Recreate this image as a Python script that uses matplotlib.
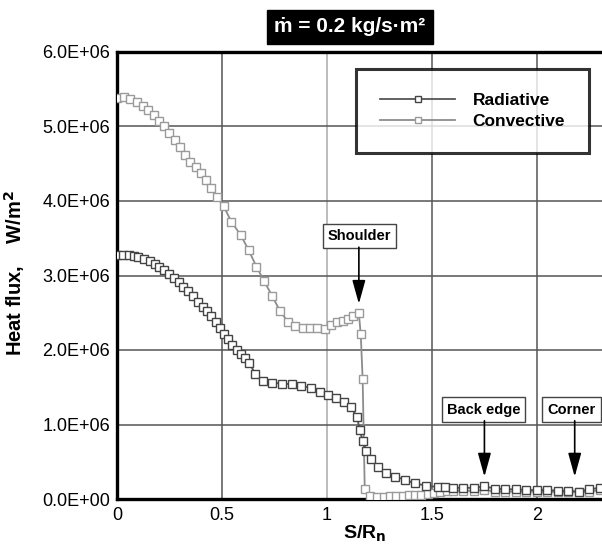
import matplotlib
matplotlib.use("Agg")
import matplotlib.pyplot as plt
from matplotlib.ticker import FuncFormatter

plt.rcParams['font.family'] = ['Liberation Sans', 'DejaVu Sans']

# ---- data (heat flux in W/m^2) ----
conv_s = [0.000, 0.031, 0.062, 0.093, 0.124, 0.150, 0.175, 0.200, 0.225, 0.250,
          0.275, 0.300, 0.325, 0.350, 0.375, 0.400, 0.425, 0.450, 0.475, 0.508,
          0.545, 0.590, 0.627, 0.664, 0.700, 0.740, 0.777, 0.814, 0.850, 0.887,
          0.920, 0.954, 0.993, 1.018, 1.048, 1.075, 1.099, 1.124, 1.152, 1.161,
          1.170, 1.180, 1.207, 1.240, 1.270, 1.300, 1.330, 1.360, 1.390, 1.420,
          1.450, 1.480, 1.510, 1.540, 1.570, 1.600, 1.650, 1.700, 1.750, 1.800,
          1.850, 1.900, 1.950, 2.000, 2.050, 2.100, 2.150, 2.200, 2.250, 2.300]
conv_q = [5.38, 5.39, 5.37, 5.33, 5.28, 5.22, 5.15, 5.08, 5.00, 4.91,
          4.82, 4.72, 4.62, 4.53, 4.45, 4.37, 4.28, 4.18, 4.06, 3.93,
          3.72, 3.54, 3.34, 3.12, 2.93, 2.72, 2.52, 2.38, 2.32, 2.29,
          2.29, 2.29, 2.28, 2.34, 2.37, 2.39, 2.42, 2.46, 2.49, 2.21,
          1.61, 0.13, 0.045, 0.03, 0.03, 0.035, 0.04, 0.045, 0.05, 0.05,
          0.06, 0.07, 0.08, 0.10, 0.11, 0.11, 0.11, 0.11, 0.12, 0.10,
          0.10, 0.10, 0.10, 0.10, 0.10, 0.09, 0.09, 0.09, 0.10, 0.12]

rad_s = [0.000, 0.027, 0.055, 0.080, 0.100, 0.130, 0.155, 0.180, 0.200, 0.225,
         0.247, 0.270, 0.293, 0.315, 0.338, 0.360, 0.384, 0.410, 0.430, 0.450,
         0.472, 0.490, 0.508, 0.528, 0.548, 0.570, 0.590, 0.610, 0.630, 0.658,
         0.695, 0.740, 0.786, 0.832, 0.877, 0.923, 0.969, 1.005, 1.042, 1.079,
         1.115, 1.143, 1.157, 1.170, 1.188, 1.212, 1.243, 1.280, 1.325, 1.371,
         1.417, 1.472, 1.527, 1.563, 1.600, 1.650, 1.700, 1.750, 1.800, 1.850,
         1.900, 1.950, 2.000, 2.050, 2.100, 2.150, 2.200, 2.250, 2.300]
rad_q = [3.27, 3.28, 3.27, 3.26, 3.25, 3.22, 3.19, 3.16, 3.12, 3.07,
         3.02, 2.97, 2.91, 2.85, 2.79, 2.72, 2.65, 2.58, 2.52, 2.45,
         2.38, 2.30, 2.22, 2.15, 2.07, 2.00, 1.94, 1.89, 1.83, 1.68,
         1.59, 1.56, 1.55, 1.54, 1.52, 1.49, 1.43, 1.39, 1.35, 1.30,
         1.23, 1.10, 0.92, 0.78, 0.65, 0.54, 0.43, 0.35, 0.30, 0.26,
         0.21, 0.18, 0.16, 0.16, 0.15, 0.15, 0.15, 0.17, 0.14, 0.13,
         0.13, 0.12, 0.12, 0.12, 0.11, 0.11, 0.10, 0.13, 0.15]

conv_q = [v * 1e6 for v in conv_q]
rad_q = [v * 1e6 for v in rad_q]

x_ticks = [0, 0.5, 1, 1.5, 2]
x_ticklabels = ['0', '0.5', '1', '1.5', '2']
y_ticks = [0, 1e6, 2e6, 3e6, 4e6, 5e6, 6e6]

notes = ['Shoulder', 'Back edge', 'Corner']
note_x = [1.155, 1.745, 2.165]
note_box_y = [3.53e6, 1.20e6, 1.20e6]
note_arrow_x = [1.152, 1.75, 2.18]
note_arrow_top = [3.38e6, 1.05e6, 1.05e6]
note_arrow_tip = [2.62e6, 0.30e6, 0.30e6]

# ---- figure ----
fig = plt.figure(figsize=(6.02, 5.46), dpi=100)
ax = fig.add_axes([117/602, 47/546, 485/602, 447/546])

ax.plot(rad_s, rad_q, color='#555555', lw=1.3, marker='s', ms=6,
        mfc='white', mec='#444444', mew=1.0, label='Radiative', zorder=4)
ax.plot(conv_s, conv_q, color='#8c8c8c', lw=1.3, marker='s', ms=6,
        mfc='white', mec='#9a9a9a', mew=1.0, label='Convective', zorder=3)

ax.set_xlim(0, 2.31)
ax.set_ylim(0, 6e6)
ax.set_xticks(x_ticks)
ax.set_xticklabels(x_ticklabels)
ax.set_yticks(y_ticks)
ax.yaxis.set_major_formatter(FuncFormatter(lambda v, p: f"{v/1e6:.1f}E+06" if v != 0 else "0.0E+00"))
ax.tick_params(length=0, labelsize=13, pad=5)
ax.tick_params(axis='x', pad=6)

ax.grid(True, color='#555555', lw=1.1)
for i, gl in enumerate(ax.xaxis.get_gridlines()):
    if x_ticks[i] == 1:
        gl.set_color('#aaaaaa')
ax.set_axisbelow(True)

for side in ['left', 'bottom', 'top']:
    ax.spines[side].set_linewidth(2.4)
    ax.spines[side].set_color('black')
ax.spines['right'].set_visible(False)

ax.set_xlabel('S/R$_\\mathbf{n}$', fontsize=14, fontweight='bold')
ax.xaxis.set_label_coords(0.51, -0.056)
ax.set_ylabel('Heat flux,    W/m$^\\mathbf{2}$', fontsize=14.5, fontweight='bold')
ax.yaxis.set_label_coords(-0.185, 0.505)

leg = ax.legend(loc='upper left', bbox_to_anchor=(0.493, 0.962), frameon=True,
                fancybox=False, shadow=False, numpoints=1, handlelength=4.3,
                handletextpad=1.0, borderpad=1.4, labelspacing=0.3,
                prop={'weight': 'bold', 'size': 12.5}, borderaxespad=0)
leg.get_frame().set_edgecolor('black')
leg.get_frame().set_linewidth(2.2)
for line in leg.get_lines():
    line.set_markersize(5)

for t, tx, ty, ax_x, a_top, a_tip in zip(notes, note_x, note_box_y, note_arrow_x,
                                         note_arrow_top, note_arrow_tip):
    ax.text(tx, ty, t, ha='center', va='center', fontsize=10.5, fontweight='bold',
            bbox=dict(boxstyle='square,pad=0.35', fc='white', ec='#444444', lw=1.0),
            zorder=6)
    ax.annotate('', xy=(ax_x, a_tip), xytext=(ax_x, a_top),
                arrowprops=dict(arrowstyle='-|>,head_length=0.9,head_width=0.25',
                                color='black', lw=1.2, mutation_scale=16,
                                shrinkA=0, shrinkB=0), zorder=6)

fig.text(350/602, 1 - 27/546, 'ṁ = 0.2 kg/s·m²', ha='center', va='center',
         color='white', fontsize=15, fontweight='bold',
         bbox=dict(boxstyle='square,pad=0.35', fc='black', ec='black'))

fig.savefig('out.png', dpi=100)
